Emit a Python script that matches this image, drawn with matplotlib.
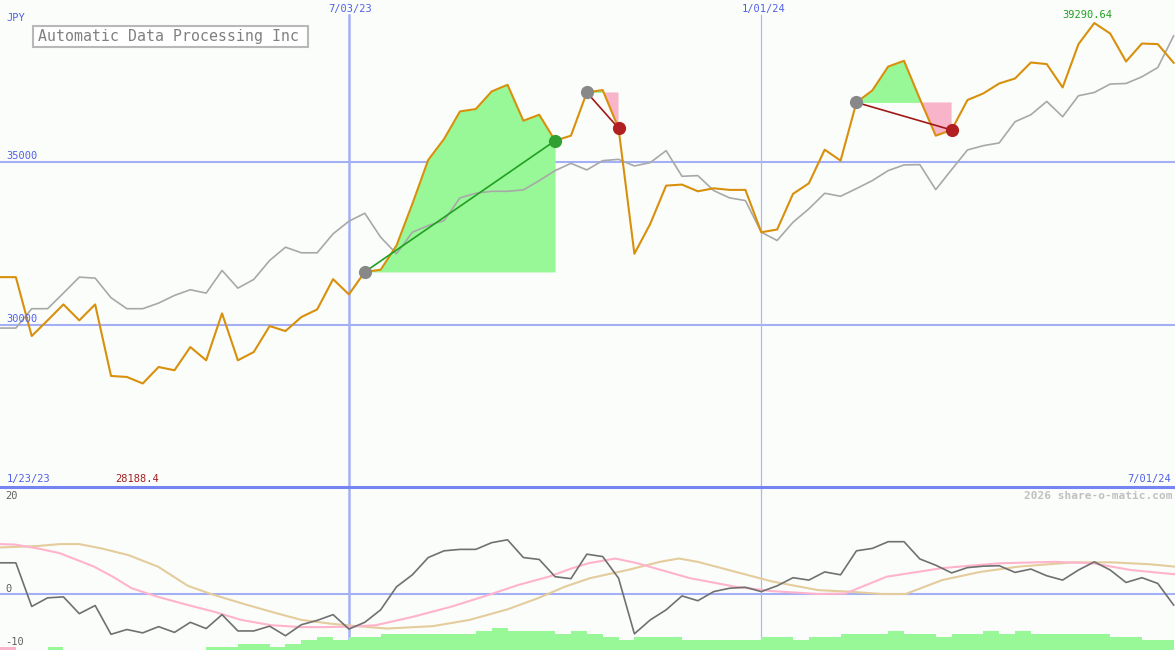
"""
Automatic Data Processing Inc (JPY) - weekly price chart
with trade markers and oscillator panel below
"""

import numpy as np
import matplotlib.pyplot as plt
from matplotlib.patches import Rectangle

# figure size in pixels
W, H = 1175, 650

##### data #####

# weekly close, JPY
price = [31464, 31464, 29650, 30132, 30624, 30132, 30624, 28420, 28389, 28188.4,
         28696, 28595, 29311, 28902, 30348, 28902, 29157, 29957, 29803, 30234,
         30470, 31402, 30932, 31624, 31691, 32438, 33721, 35074, 35720, 36568,
         36642, 37183, 37389, 36282, 36467, 35667, 35821, 37152, 37226, 36052,
         32183, 33106, 34283, 34314, 34108, 34200, 34151, 34151, 32847, 32930,
         34028, 34354, 35390, 35052, 36845, 37214, 37949, 38127, 36950, 35821,
         35996, 36919, 37122, 37429, 37583, 38075, 38026, 37306, 38641, 39290.64,
         38967, 38106, 38659, 38641, 38066]

# moving average (grey line)
avg = [29895, 29895, 30492, 30492, 30972, 31464, 31433, 30830, 30492, 30492,
       30664, 30901, 31076, 30972, 31670, 31125, 31393, 31977, 32386, 32214,
       32214, 32798, 33186, 33432, 32694, 32183, 32847, 33053, 33207, 33905,
       34047, 34108, 34108, 34151, 34437, 34745, 34969, 34766, 35052, 35092,
       34889, 34991, 35360, 34570, 34591, 34130, 33905, 33822, 32847, 32592,
       33155, 33567, 34047, 33955, 34191, 34437, 34745, 34920, 34929, 34160,
       34775, 35381, 35513, 35597, 36251, 36467, 36876, 36405, 37051, 37152,
       37411, 37429, 37635, 37921, 38896]

# trades: (entry week, exit week)
trades = [(23, 35), (37, 39), (54, 60)]

# oscillator (dark grey)
osc = [6.5, 6.5, -2.6, -0.8, -0.6, -4.1, -2.4, -8.4, -7.4, -8.1,
       -6.8, -8.0, -5.9, -7.2, -4.3, -7.7, -7.7, -6.7, -8.7, -6.4,
       -5.5, -4.3, -7.3, -5.9, -3.3, 1.5, 4.0, 7.6, 9.0, 9.3,
       9.3, 10.7, 11.3, 7.6, 7.2, 3.6, 3.2, 8.3, 7.8, 3.3,
       -8.3, -5.4, -3.3, -0.4, -1.4, 0.5, 1.2, 1.4, 0.5, 1.7,
       3.4, 2.9, 4.6, 4.0, 9.0, 9.5, 10.9, 10.9, 7.3, 6.0,
       4.4, 5.5, 5.8, 5.9, 4.5, 5.2, 3.8, 2.9, 5.0, 6.7,
       5.0, 2.4, 3.4, 2.2, -2.3]

# smooth signal lines (week position, value)
pink_x = [0, 0.95, 2.37, 3.78, 5.93, 7.12, 8.3, 9.96, 11.85, 13.5, 15.2, 17.1,
          19, 20.4, 22.1, 23.7, 26.1, 28.5, 30.8, 32.7, 34.6, 36.1, 37.1, 38.8,
          40.2, 43.5, 46.4, 48.7, 51.6, 53.3, 55.9, 59.4, 63, 66.5, 68.9, 71.3, 74.1]
pink_y = [10.4, 10.3, 9.5, 8.5, 5.7, 3.6, 1.2, -0.6, -2.3, -3.7, -5.4, -6.5,
          -6.9, -6.9, -6.8, -6.5, -4.7, -2.6, -0.2, 1.9, 3.6, 5.4, 6.4, 7.4,
          6.4, 3.3, 1.5, 0.6, 0.0, 0.1, 3.6, 5.4, 6.4, 6.7, 6.4, 5.0, 4.1]
tan_x = [0, 2.37, 3.78, 5, 6.4, 8.1, 9.96, 11.85, 13.3, 15.4, 17.1, 19, 20.9,
         22.5, 24.4, 27.3, 29.6, 32, 33.9, 35.6, 37.2, 39.7, 41.6, 42.8, 44,
         46.4, 48.7, 51.6, 53.5, 55.6, 57.1, 59.4, 61.8, 64.2, 67.7, 70.1, 72.5, 74.1]
tan_y = [9.7, 10.0, 10.4, 10.4, 9.5, 8.1, 5.7, 1.7, 0.0, -2.1, -3.7, -5.4, -6.2,
         -6.7, -7.2, -6.7, -5.4, -3.2, -0.9, 1.5, 3.3, 5.1, 6.7, 7.4, 6.7,
         4.6, 2.6, 0.8, 0.5, 0.0, 0.0, 2.9, 4.6, 5.7, 6.6, 6.6, 6.2, 5.7]

# bottom bars (level, negative = pink)
bars = [-1, 0, 0, 1, 0, 0, 0, 0, 0, 0,
        0, 0, 0, 1, 1, 2, 2, 1, 2, 3,
        4, 3, 4, 4, 5, 5, 5, 5, 5, 5,
        6, 7, 6, 6, 6, 5, 6, 5, 4, 3,
        4, 4, 4, 3, 3, 3, 3, 3, 4, 4,
        3, 4, 4, 5, 5, 5, 6, 5, 5, 4,
        5, 5, 6, 5, 6, 5, 5, 5, 5, 5,
        4, 4, 3, 3]

# colours
bg = '#fbfdfb'
c_price = '#d8900c'
c_avg = '#a8a8a8'
c_grid = '#a4b0f4'
c_blue = '#5060e8'
c_win = '#98f898'
c_loss = '#f8b4c8'

mono = 'DejaVu Sans Mono'

def fx(x):
    return x / W

def fy(y):
    return 1 - y / H

plt.close('all')
fig = plt.figure(figsize=(W / 100, H / 100), dpi=100, facecolor=bg)

split = 487  # pixel row between the panels
ax = fig.add_axes([0, (H - split) / H, 1, split / H])
ax2 = fig.add_axes([0, 0, 1, (H - split) / H])

x = np.arange(len(price))
xmax = W / 15.86

for a in (ax, ax2):
    a.set_facecolor(bg)
    a.set_xlim(0, xmax)
    for s in a.spines.values():
        s.set_visible(False)
    a.set_xticks([])
    a.set_yticks([])

##### price panel #####
ax.set_ylim(25000, 40000)
for lvl in (35000, 30000):
    ax.axhline(lvl, color=c_grid, lw=1.5, zorder=0)
ax.axvline(22, ymax=1 - 15 / split, color=c_grid, lw=1.8, zorder=0)
ax.axvline(48, ymax=1 - 15 / split, color='#b0b8e8', lw=0.9, zorder=0)

p = np.array(price)
for s, e in trades:
    xs = x[s:e + 1]
    ys = p[s:e + 1]
    base = p[s]
    ax.fill_between(xs, ys, base, where=ys >= base, interpolate=True,
                    color=c_win, lw=0, zorder=1)
    ax.fill_between(xs, ys, base, where=ys <= base, interpolate=True,
                    color=c_loss, lw=0, zorder=1)

ax.plot(x, avg, color=c_avg, lw=1.2, zorder=2)
ax.plot(x, price, color=c_price, lw=1.5, zorder=3)

for s, e in trades:
    win = p[e] > p[s]
    lc = '#20a020' if win else '#a01818'
    mc = '#30a030' if win else '#b02020'
    ax.plot([s, e], [p[s], p[e]], color=lc, lw=1.2, zorder=4)
    ax.plot(s, p[s], 'o', color='#888888', ms=9.5, mec='none', zorder=5)
    ax.plot(e, p[e], 'o', color=mc, ms=9.5, mec='none', zorder=5)

# max label
imax = int(np.argmax(p))
ax.annotate(f'{p[imax]:.2f}', (imax, p[imax]), xytext=(-5, 2),
            textcoords='offset points', ha='center', va='bottom',
            color='#20a020', fontsize=7.5, family=mono)

##### oscillator panel #####
ylo, yhi = -11.67, 22.3
ax2.set_ylim(ylo, yhi)
ax2.axhline(0, color=c_grid, lw=1.5, zorder=0)
ax2.axhline(yhi, color='#7484f0', lw=2.2, zorder=6, clip_on=False)
ax2.axvline(22, color=c_grid, lw=1.8, zorder=0)
ax2.axvline(48, color='#b0b8e8', lw=0.9, zorder=0)

b = np.array(bars)
ax2.bar(np.arange(len(b)), np.abs(b) * 0.667, width=1.0, align='edge',
        bottom=ylo, color=np.where(b < 0, c_loss, c_win), lw=0, zorder=1)

ax2.plot(tan_x, tan_y, color='#e4cc9c', lw=1.5, zorder=2)
ax2.plot(pink_x, pink_y, color='#ffb4cc', lw=1.5, zorder=2)
ax2.plot(x, osc, color='#707070', lw=1.2, zorder=3)

##### labels #####
small = dict(fontsize=7.5, family=mono)
fig.text(fx(6), fy(18), 'JPY', color=c_blue, va='center', **small)
fig.text(fx(350), fy(9), '7/03/23', color=c_blue, ha='center', va='center', **small)
fig.text(fx(764), fy(9), '1/01/24', color=c_blue, ha='center', va='center', **small)
fig.text(fx(6), fy(156), '35000', color=c_blue, va='center', **small)
fig.text(fx(6), fy(319), '30000', color=c_blue, va='center', **small)
fig.text(fx(7), fy(479), '1/23/23', color=c_blue, va='center', **small)
fig.text(fx(115), fy(479), '28188.4', color='#a02020', va='center', **small)
fig.text(fx(1171), fy(479), '7/01/24', color=c_blue, ha='right', va='center', **small)

fig.text(fx(5), fy(496), '20', color='#606060', va='center', **small)
fig.text(fx(5), fy(589), '0', color='#606060', va='center', **small)
fig.text(fx(5), fy(642), '-10', color='#606060', va='center', **small)
fig.text(fx(1172), fy(496), '2026 share-o-matic.com', color='#c0c0c0',
         ha='right', va='center', fontsize=8, family=mono, fontweight='bold')

# title box
fig.patches.append(Rectangle((fx(33), fy(47)), fx(275), 21 / H,
                             transform=fig.transFigure, facecolor='white',
                             edgecolor='#b8b8b8', lw=1.5, zorder=5))
fig.text(fx(38), fy(36.5), 'Automatic Data Processing Inc', color='#808080',
         va='center', fontsize=10.7, family=mono, zorder=6)

plt.savefig('out.png', dpi=100, facecolor=bg)
